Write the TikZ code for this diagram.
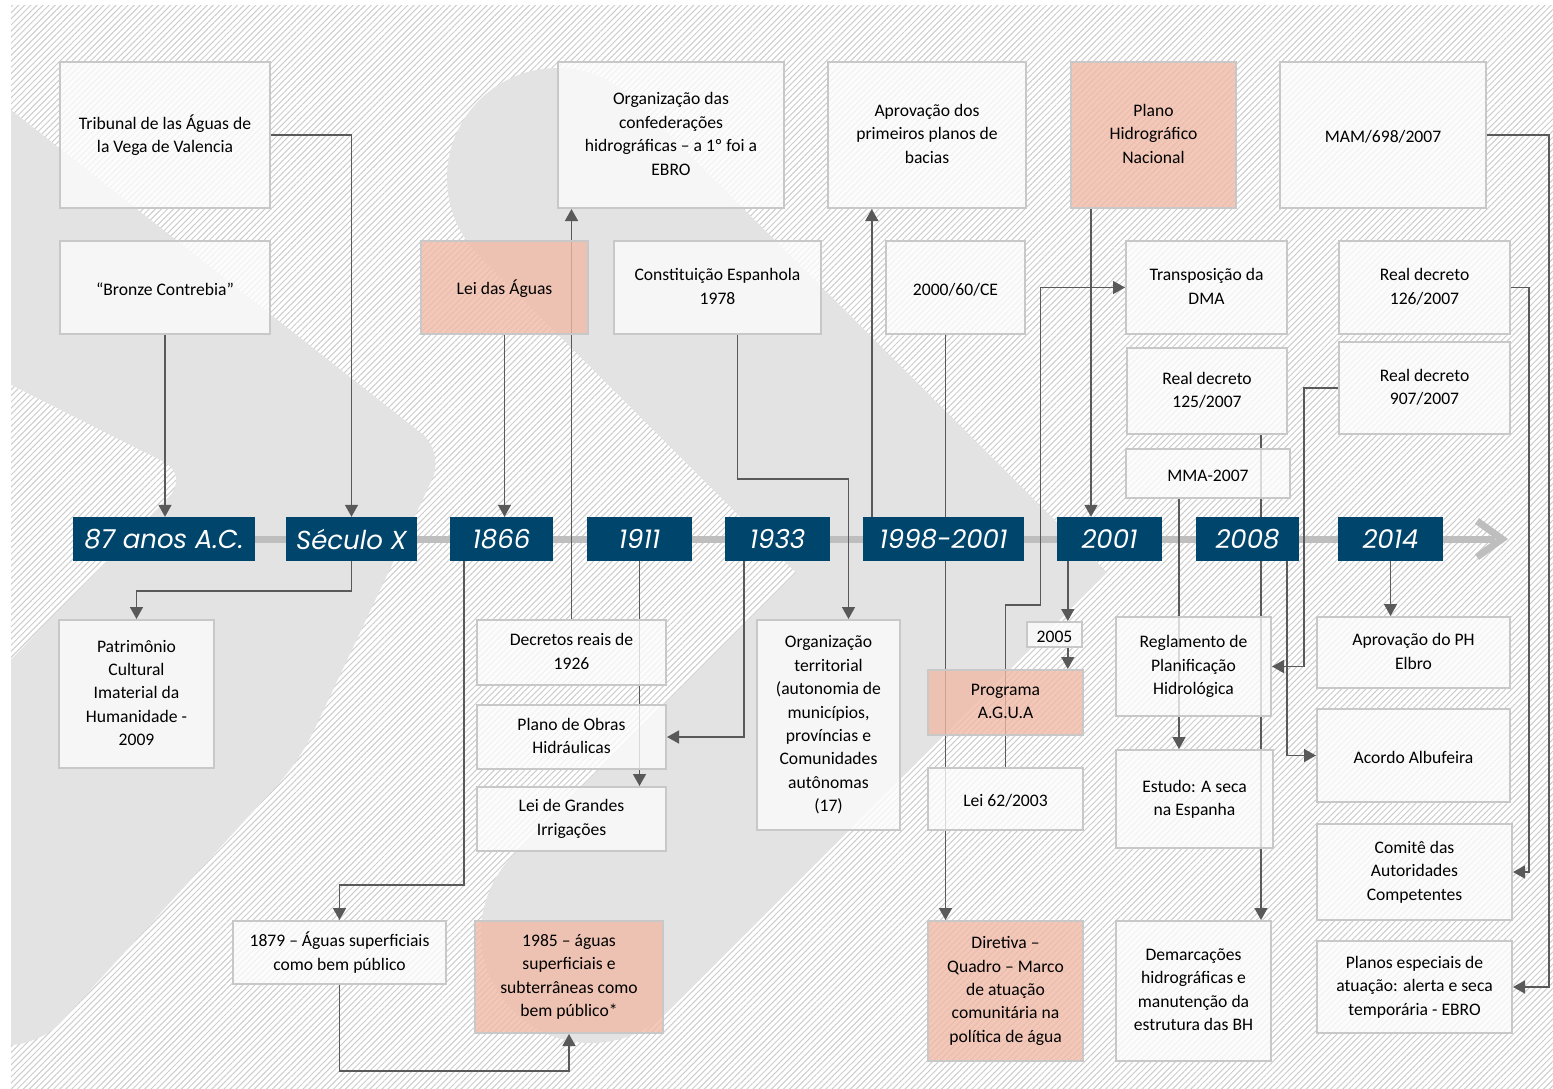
\documentclass[tikz,border=0pt]{standalone}
\usepackage{fontspec}
\setmainfont{Carlito}
\newfontfamily\anofont{Poppins}
\usetikzlibrary{arrows.meta,patterns.meta}
\definecolor{azulano}{RGB}{0,69,107}
\definecolor{salmao}{RGB}{240,185,165}
\definecolor{bordacx}{RGB}{200,200,200}
\definecolor{fundocx}{RGB}{252,252,252}
\definecolor{seta}{RGB}{89,89,89}
\definecolor{faixa}{RGB}{227,227,227}
\definecolor{hachura}{RGB}{205,205,205}
\definecolor{eixocor}{RGB}{190,190,190}
\pgfdeclarelayer{fundo}
\pgfdeclarelayer{linhas}
\pgfsetlayers{fundo,linhas,main}
\begin{document}
\begin{tikzpicture}[x=1pt,y=-1pt,
  evento/.style={draw=bordacx,line width=2pt,fill opacity=.78,text opacity=1,
    align=center,inner sep=2pt,font=\fontsize{17.6}{23.4}\selectfont,
    execute at begin node={\rule{0pt}{18pt}},
    execute at end node={\rule[-2.4pt]{0pt}{0pt}}},
  ano/.style={fill=azulano,text=white,minimum height=44pt,inner sep=0pt,
    font=\anofont\itshape\fontsize{26}{30}\selectfont},
  liga/.style={draw=seta,line width=1.5pt,-{Triangle[length=12pt,width=13pt]}},
  eixo/.style={draw=eixocor,line width=7pt}]
  \useasboundingbox (0,0) rectangle (1553,1088);
  \begin{pgfonlayer}{fundo}
    \fill[white] (0,0) rectangle (1553,1088);
    \fill[pattern={Lines[angle=45,distance=4.3pt,line width=1pt]},pattern color=hachura]
      (11,5) rectangle (1553,1088);
    \begin{scope}
      \clip (11,5) rectangle (1553,1088);
      \fill[faixa,rounded corners=30pt] (-60,54) -- (445,452) -- (300,760) -- (40,1045)
        -- (-60,1045) -- (-60,733) -- (190,475) -- (-60,349) -- cycle;
      \draw[faixa,line width=220pt,line cap=round] (557,178) -- (951.5,572.5) -- (591,933);
    \end{scope}
  \end{pgfonlayer}
  \foreach \nome/\cx/\lx/\rot in {%
    t87/164/182/{87 anos A.C.}, tsec/351.5/131/{Século X}, t1866/501.5/103/1866,
    t1911/639.5/105/1911, t1933/777.5/105/1933, t1998/943.5/161/1998-2001,
    t2001/1109.5/105/2001, t2008/1247.5/103/2008, t2014/1390.5/105/2014}
  {
    \node[ano,minimum width=\lx pt] (\nome) at (\cx,539) {\rot};
  }
  \foreach \nome/\cx/\cy/\lx/\ly/\cor/\texto in {%
    trib/165/135/210/146/fundocx/{Tribunal de las Águas de\\la Vega de Valencia},
    bronze/165/287.5/210/93/fundocx/{“Bronze Contrebia”},
    orgconf/671/135/226/146/fundocx/{Organização das\\confederações\\hidrográficas – a 1º foi a\\EBRO},
    leiaguas/504.5/287.5/167/93/salmao/{Lei das Águas},
    const/717.5/287.5/207/93/fundocx/{Constituição Espanhola\\1978},
    aprov/927/135/198/146/fundocx/{Aprovação dos\\primeiros planos de\\bacias},
    dir2000/955.5/287.5/139/93/fundocx/{2000/60/CE},
    phn/1153.5/135/165/146/salmao/{Plano\\Hidrográfico\\Nacional},
    transp/1206.5/287.5/161/93/fundocx/{Transposição da\\DMA},
    mam/1383/135/206/146/fundocx/{MAM/698/2007},
    rd126/1424.5/287.5/171/93/fundocx/{Real decreto\\126/2007},
    rd125/1207/391/160/86/fundocx/{Real decreto\\125/2007},
    rd907/1424.5/388/171/92/fundocx/{Real decreto\\907/2007},
    mma/1208/473.5/164/49/fundocx/{MMA-2007},
    patr/136.5/694/155/148/fundocx/{Patrimônio\\Cultural\\Imaterial da\\Humanidade -\\2009},
    decr/571.5/652.5/189/65/fundocx/{Decretos reais de\\1926},
    obras/571.5/737/189/64/fundocx/{Plano de Obras\\Hidráulicas},
    irrig/571.5/819/189/64/fundocx/{Lei de Grandes\\Irrigações},
    orgterr/828.5/725/143/210/fundocx/{Organização\\territorial\\(autonomia de\\municípios,\\províncias e\\Comunidades\\autônomas\\(17)},
    a2005/1054.5/634.5/55/25/fundocx/{2005},
    agua/1005.5/702.5/155/65/salmao/{Programa\\A.G.U.A},
    lei62/1005.5/799/155/62/fundocx/{Lei 62/2003},
    regl/1193.5/666.5/155/99/fundocx/{Reglamento de\\Planificação\\Hidrológica},
    estudo/1194.5/799/157/98/fundocx/{Estudo: A seca\\na Espanha},
    aprph/1413.5/652.5/193/71/fundocx/{Aprovação do PH\\Elbro},
    albuf/1413.5/755.5/193/93/fundocx/{Acordo Albufeira},
    comite/1414.5/872/195/96/fundocx/{Comitê das\\Autoridades\\Competentes},
    planos/1414.5/987/195/92/fundocx/{Planos especiais de\\atuação: alerta e seca\\temporária - EBRO},
    b1879/339.5/952.5/213/63/fundocx/{1879 – Águas superficiais\\como bem público},
    b1985/569/977/188/112/salmao/{1985 – águas\\superficiais e\\subterrâneas como\\bem público*},
    diret/1005.5/991/155/140/salmao/{Diretiva –\\Quadro – Marco\\de atuação\\comunitária na\\política de água},
    demarc/1193.5/991/155/140/fundocx/{Demarcações\\hidrográficas e\\manutenção da\\estrutura das BH}}
  {
    \node[evento,fill=\cor,minimum width=\lx pt,minimum height=\ly pt] (\nome) at (\cx,\cy) {\texto};
  }
  \coordinate (p1866) at ([xshift=14pt]t1866.south west);
  \coordinate (p1933) at ([xshift=19pt]t1933.south west);
  \coordinate (pconst) at ([xshift=20pt]const.south);
  \coordinate (porgterr) at ([xshift=20pt]orgterr.north);
  \coordinate (p1998) at ([xshift=9pt]t1998.north west);
  \coordinate (pdir) at ([xshift=-10pt]dir2000.south);
  \coordinate (pphn) at ([xshift=21pt]phn.south west);
  \coordinate (p2001) at ([xshift=11pt]t2001.south west);
  \coordinate (pmma) at ([xshift=54pt]mma.south west);
  \coordinate (p125) at ([xshift=-27pt]rd125.south east);
  \coordinate (p2008) at ([xshift=-12pt]t2008.south east);
  \coordinate (fim) at (1502,539);
  \begin{pgfonlayer}{linhas}
    \draw[eixo] (t87.west) -- ([xshift=-7pt]fim);
    \draw[eixo,line join=miter] ([xshift=-25pt,yshift=18pt]fim) -- (fim) -- ([xshift=-25pt,yshift=-18pt]fim);
    \draw[liga] (bronze.south) -- (bronze.south |- t87.north);
    \draw[liga] (trib.east) -| (tsec.north);
    \draw[liga] (tsec.south) -- ++(0,30) -| (patr.north);
    \draw[liga] (leiaguas.south) -- (leiaguas.south |- t1866.north);
    \draw[liga] (p1866) -- ++(0,324) -| (b1879.north);
    \draw[liga] (b1879.south) -- ++(0,86) -| (b1985.south);
    \draw[liga] (decr.north) -- (decr.north |- orgconf.south);
    \draw[liga] (t1911.south) -- (t1911.south |- irrig.north);
    \draw[liga] (p1933) |- (obras.east);
    \draw[liga] (pconst) -- ++(0,144) -| (porgterr);
    \draw[liga] (p1998) -- (p1998 |- aprov.south);
    \draw[liga] (pdir) -- (pdir |- diret.north);
    \draw[liga] (pphn) -- (pphn |- t2001.north);
    \draw[liga] (lei62.north) -- ++(0,-162) -- ++(35,0) |- (transp.west);
    \draw[liga] (p2001) -- (p2001 |- a2005.north);
    \draw[liga] (p2001 |- a2005.south) -- (p2001 |- agua.north);
    \draw[liga] (pmma) -- (pmma |- estudo.north);
    \draw[liga] (p125) -- (p125 |- demarc.north);
    \draw[liga] (rd907.west) -- ++(-34,0) |- (regl.east);
    \draw[liga] (p2008) |- (albuf.west);
    \draw[liga] (t2014.south) -- (t2014.south |- aprph.north);
    \draw[liga] (rd126.east) -- ++(18,0) |- (comite.east);
    \draw[liga] (mam.east) -- ++(62,0) |- (planos.east);
  \end{pgfonlayer}
\end{tikzpicture}
\end{document}
